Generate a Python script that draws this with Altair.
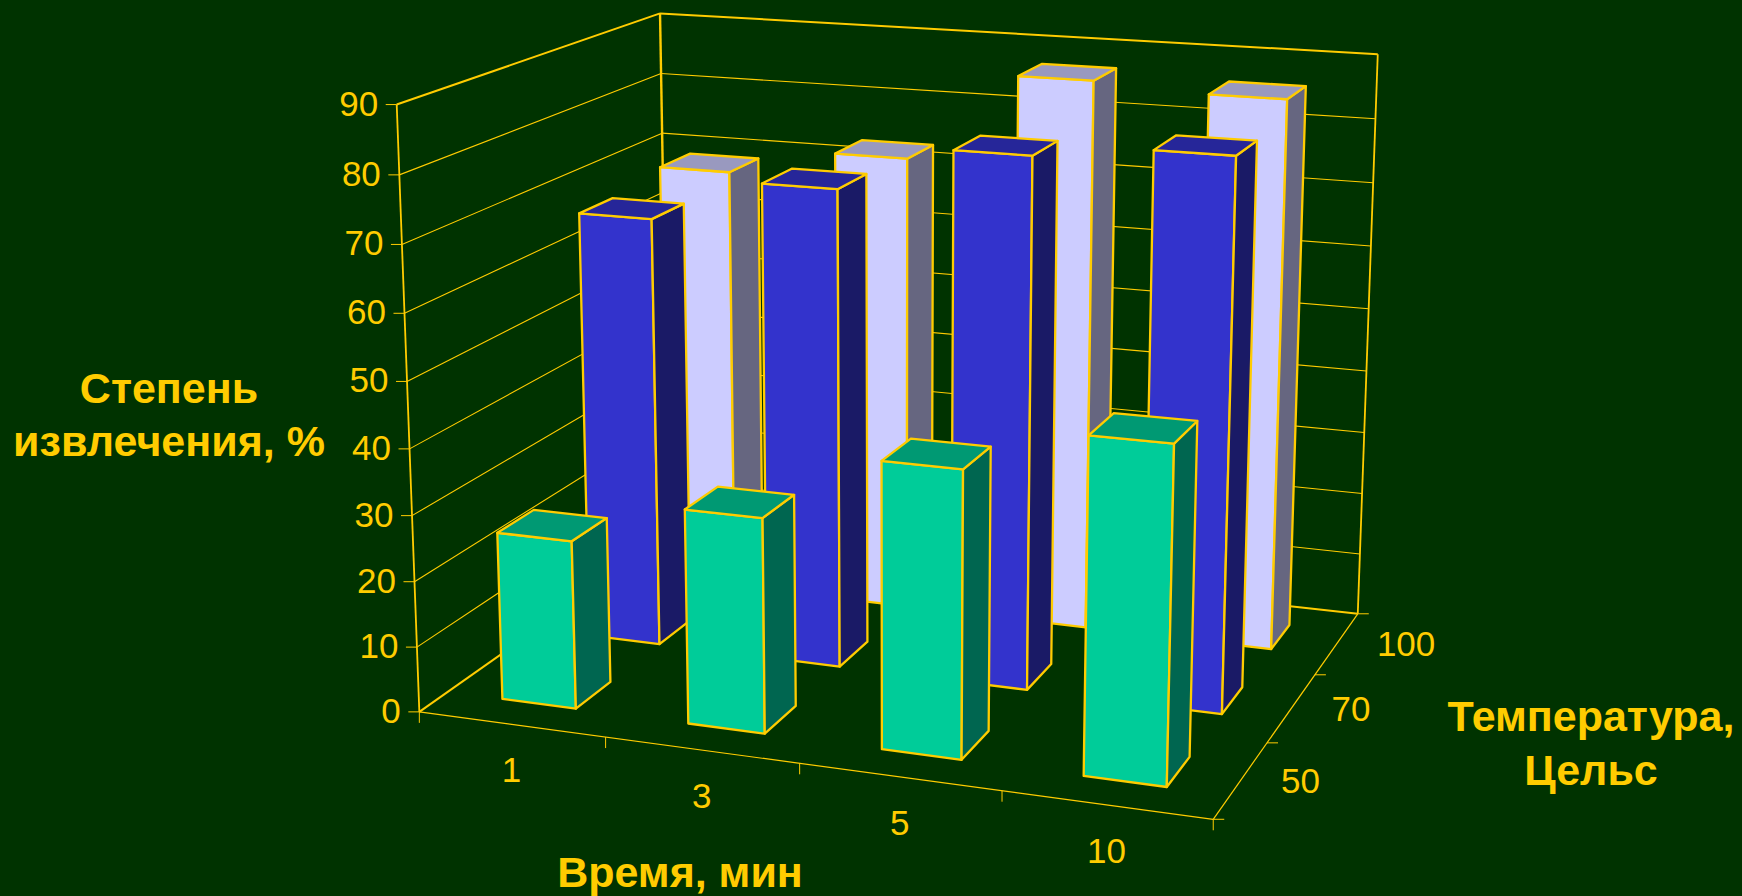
import altair as alt
import numpy as np

# Chart values
times = ["1", "3", "5", "10"]
temperatures = ["50", "70", "100"]
extraction_50 = [25.7, 32.4, 42.6, 49.2]
extraction_70 = [67.3, 74, 81, 83]
extraction_100 = [68.8, 73, 87, 86]
value_ticks = [0, 10, 20, 30, 40, 50, 60, 70, 80, 90]

# Face colours per series: front, side, top
series_colours = [
    ("#00CC99", "#006650", "#009973"),
    ("#3333CC", "#1A1A66", "#262699"),
    ("#CCCCFF", "#666680", "#9999BF"),
]
YELLOW = "#FFCC00"
BACKGROUND = "#003300"
FONT = "Liberation Sans"

# Perspective camera: (time slot, temperature slot, value / 10, 1) to the page
CAMERA = np.array([
    [174.07606942168476, 121.1556305896708, -4.508731790216089, 419.33938652986706],
    [10.380143282646008, -28.247217779736324, -68.00346577101116, 711.8644830923972],
    [-0.020109778793039695, 0.05660090121023434, -0.005027912878947321, 1.0],
])
BAR_START, BAR_END = 0.3, 0.7


def project(x, y, z):
    h = CAMERA @ np.array([x, y, z / 10, 1.0])
    return [float(h[0] / h[2]), float(h[1] / h[2])]


def polygon(corners, fill):
    ring = [project(*c) for c in corners]
    ring.append(ring[0])
    return {
        "type": "Feature",
        "properties": {"fill": fill},
        "geometry": {"type": "Polygon", "coordinates": [ring]},
    }


def line(points, width):
    return {
        "type": "Feature",
        "properties": {"w": width},
        "geometry": {"type": "LineString", "coordinates": points},
    }


def edge(a, b, width):
    return line([project(*a), project(*b)], width)


def shifted(p, dx, dy):
    return [p[0] + dx, p[1] + dy]


# Walls, floor, gridlines and ticks
nx, ny, top = len(times), len(temperatures), value_ticks[-1]
frame = []
for v in value_ticks[1:-1]:
    frame.append(edge((0, 0, v), (0, ny, v), 1.1))
    frame.append(edge((0, ny, v), (nx, ny, v), 1.1))
frame += [
    edge((0, 0, 0), (0, 0, top), 1.8),
    edge((0, ny, 0), (0, ny, top), 2.4),
    edge((nx, ny, 0), (nx, ny, top), 1.8),
    edge((0, 0, top), (0, ny, top), 2.0),
    edge((0, ny, top), (nx, ny, top), 2.0),
    edge((0, 0, 0), (0, ny, 0), 2.0),
    edge((0, ny, 0), (nx, ny, 0), 2.0),
    edge((0, 0, 0), (nx, 0, 0), 1.2),
    edge((nx, 0, 0), (nx, ny, 0), 1.2),
]
for v in value_ticks:
    p = project(0, 0, v)
    frame.append(line([p, shifted(p, -11, 0)], 1.0))
for i in range(nx + 1):
    p = project(i, 0, 0)
    frame.append(line([p, shifted(p, 0, 11)], 1.0))
for j in range(ny + 1):
    p = project(nx, j, 0)
    frame.append(line([p, shifted(p, 11, 0)], 1.0))

# Bars: back row first, left to right within a row
faces = []
rows = [extraction_50, extraction_70, extraction_100]
for j in reversed(range(ny)):
    front_c, side_c, top_c = series_colours[j]
    for i, value in enumerate(rows[j]):
        x0, x1 = i + BAR_START, i + BAR_END
        y0, y1 = j + BAR_START, j + BAR_END
        faces.append(polygon([(x0, y0, 0), (x1, y0, 0), (x1, y0, value), (x0, y0, value)], front_c))
        faces.append(polygon([(x1, y0, 0), (x1, y1, 0), (x1, y1, value), (x1, y0, value)], side_c))
        faces.append(polygon([(x0, y0, value), (x1, y0, value), (x1, y1, value), (x0, y1, value)], top_c))

# Text labels placed from the projected axis positions
value_labels = []
for v in value_ticks:
    p = project(0, 0, v)
    value_labels.append({"lon": p[0] - 18.5, "lat": p[1], "t": str(v)})
time_labels = []
for i, t in enumerate(times):
    p = project(i + 0.5, 0, 0)
    time_labels.append({"lon": p[0], "lat": p[1] + 47, "t": t})
temperature_labels = []
for j, t in enumerate(temperatures):
    p = project(nx, j + 0.5, 0)
    temperature_labels.append({"lon": p[0] + 40, "lat": p[1] + 2, "t": t})
titles = [
    {"lon": 169, "lat": 390, "t": "Степень"},
    {"lon": 169, "lat": 443, "t": "извлечения, %"},
    {"lon": 680, "lat": 874, "t": "Время, мин"},
    {"lon": 1591, "lat": 718, "t": "Температура,"},
    {"lon": 1591, "lat": 772, "t": "Цельс"},
]

view = dict(type="identity", scale=1, translate=[0, 0])


def text_layer(rows_, align, size, bold=False):
    return (
        alt.Chart(alt.Data(values=rows_))
        .mark_text(align=align, baseline="middle", font=FONT, fontSize=size,
                   fontWeight="bold" if bold else "normal", color=YELLOW)
        .encode(longitude="lon:Q", latitude="lat:Q", text="t:N")
        .project(**view)
    )


frame_layer = (
    alt.Chart(alt.Data(values=frame))
    .mark_geoshape(filled=False, stroke=YELLOW)
    .encode(strokeWidth=alt.StrokeWidth("properties.w:Q", scale=None))
    .project(**view)
)
bar_layer = (
    alt.Chart(alt.Data(values=faces))
    .mark_geoshape(stroke=YELLOW, strokeWidth=2.3, strokeJoin="round")
    .encode(fill=alt.Fill("properties.fill:N", scale=None))
    .project(**view)
)

chart = (
    alt.layer(
        frame_layer,
        bar_layer,
        text_layer(value_labels, "right", 35),
        text_layer(time_labels, "center", 35),
        text_layer(temperature_labels, "left", 35),
        text_layer(titles, "center", 43, bold=True),
    )
    .properties(width=1742, height=896, padding=0, background=BACKGROUND,
                autosize=alt.AutoSizeParams(type="none"))
    .configure_view(stroke=None)
)

chart.save("out.html", embed_options={"renderer": "svg", "actions": False})
